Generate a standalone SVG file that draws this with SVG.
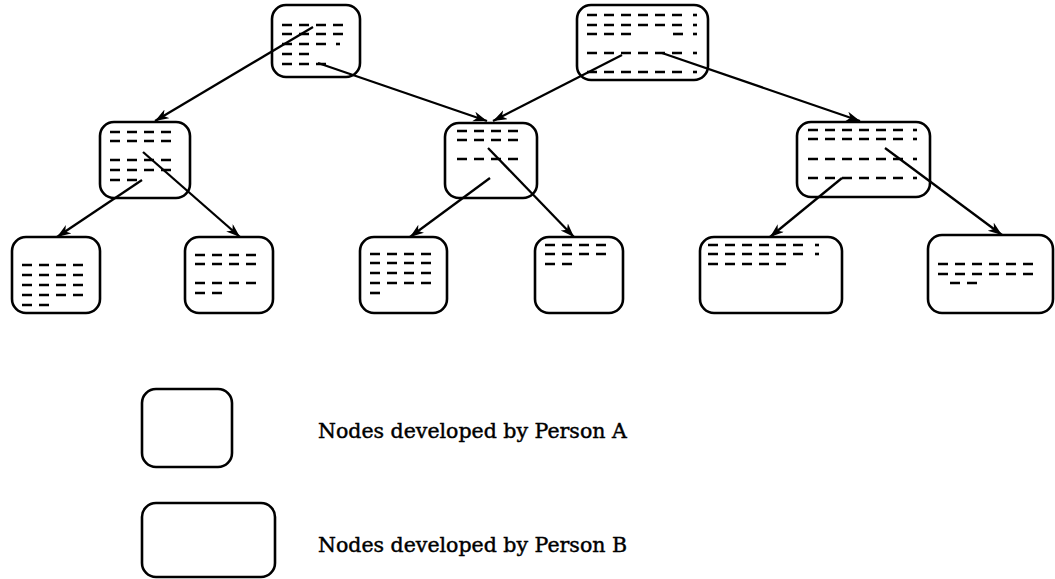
<svg xmlns="http://www.w3.org/2000/svg" width="1055" height="579" viewBox="0 0 1055 579">
<style>
.box{fill:none;stroke:#000;stroke-width:2.6}
.ds{stroke:#000;stroke-width:2.6;stroke-dasharray:10 7;fill:none}
.dt{stroke:#000;stroke-width:2.6;fill:none}
.edge{stroke:#000;stroke-width:2.3;fill:none;marker-end:url(#ah)}
.lbl{font-family:"DejaVu Serif","Liberation Serif",serif;font-size:20.5px;fill:#000;stroke:#000;stroke-width:0.45}
</style>
<defs>
<marker id="ah" markerUnits="userSpaceOnUse" markerWidth="16" markerHeight="12" refX="14" refY="5" orient="auto">
<path d="M0,0 L14,5 L0,10 L4,5 Z" fill="#000"/>
</marker>
</defs>
<rect width="1055" height="579" fill="#fff"/>

<g id="node-top-left">
<rect class="box" x="272" y="5" width="88" height="72" rx="14"/>
<line class="ds" x1="282" y1="25" x2="343" y2="25"/>
<line class="ds" x1="282" y1="34" x2="343" y2="34"/>
<line class="ds" x1="282" y1="44" x2="326" y2="44"/>
<line class="dt" x1="336" y1="44" x2="340" y2="44"/>
<line class="ds" x1="282" y1="54" x2="309" y2="54"/>
<line class="ds" x1="282" y1="64" x2="326" y2="64"/>
</g>

<g id="node-top-right">
<rect class="box" x="577" y="5" width="131" height="75" rx="14"/>
<line class="ds" x1="587" y1="15" x2="682" y2="15"/><line class="dt" x1="693" y1="15" x2="697" y2="15"/>
<line class="ds" x1="587" y1="25" x2="682" y2="25"/><line class="dt" x1="693" y1="25" x2="697" y2="25"/>
<line class="ds" x1="587" y1="34" x2="631" y2="34"/><line class="dt" x1="673" y1="34" x2="683" y2="34"/><line class="dt" x1="693" y1="34" x2="697" y2="34"/>
<line class="ds" x1="587" y1="53" x2="682" y2="53"/><line class="dt" x1="693" y1="53" x2="697" y2="53"/>
<line class="ds" x1="587" y1="72" x2="682" y2="72"/><line class="dt" x1="693" y1="72" x2="697" y2="72"/>
</g>

<g id="node-mid-left">
<rect class="box" x="100" y="122" width="90" height="76" rx="14"/>
<line class="ds" x1="110" y1="132" x2="171" y2="132"/>
<line class="ds" x1="110" y1="141" x2="171" y2="141"/>
<line class="ds" x1="110" y1="160" x2="171" y2="160"/>
<line class="ds" x1="110" y1="170" x2="171" y2="170"/>
<line class="ds" x1="110" y1="180" x2="137" y2="180"/>
</g>

<g id="node-mid-center">
<rect class="box" x="445" y="123" width="92" height="75" rx="14"/>
<line class="ds" x1="457" y1="131" x2="518" y2="131"/>
<line class="ds" x1="457" y1="140" x2="518" y2="140"/>
<line class="ds" x1="457" y1="159" x2="518" y2="159"/>
</g>

<g id="node-mid-right">
<rect class="box" x="797" y="122" width="133" height="75" rx="14"/>
<line class="ds" x1="808" y1="130" x2="903" y2="130"/><line class="dt" x1="913" y1="130" x2="917" y2="130"/>
<line class="ds" x1="808" y1="139" x2="903" y2="139"/><line class="dt" x1="913" y1="139" x2="917" y2="139"/>
<line class="ds" x1="808" y1="159" x2="903" y2="159"/><line class="dt" x1="913" y1="159" x2="917" y2="159"/>
<line class="ds" x1="808" y1="178" x2="903" y2="178"/><line class="dt" x1="913" y1="178" x2="917" y2="178"/>
</g>

<g id="node-bottom-1">
<rect class="box" x="12" y="237" width="88" height="76" rx="14"/>
<line class="ds" x1="22" y1="265" x2="83" y2="265"/>
<line class="ds" x1="22" y1="275" x2="83" y2="275"/>
<line class="ds" x1="22" y1="285" x2="83" y2="285"/>
<line class="ds" x1="22" y1="295" x2="83" y2="295"/>
<line class="ds" x1="22" y1="305" x2="49" y2="305"/>
</g>

<g id="node-bottom-2">
<rect class="box" x="185" y="237" width="88" height="76" rx="14"/>
<line class="ds" x1="195" y1="255" x2="256" y2="255"/>
<line class="ds" x1="195" y1="264" x2="256" y2="264"/>
<line class="ds" x1="195" y1="283" x2="256" y2="283"/>
<line class="ds" x1="195" y1="293" x2="222" y2="293"/>
</g>

<g id="node-bottom-3">
<rect class="box" x="360" y="237" width="87" height="76" rx="14"/>
<line class="ds" x1="370" y1="254" x2="431" y2="254"/>
<line class="ds" x1="370" y1="263" x2="431" y2="263"/>
<line class="ds" x1="370" y1="273" x2="431" y2="273"/>
<line class="ds" x1="370" y1="283" x2="431" y2="283"/>
<line class="ds" x1="370" y1="293" x2="380" y2="293"/>
</g>

<g id="node-bottom-4">
<rect class="box" x="535" y="237" width="88" height="76" rx="14"/>
<line class="ds" x1="545" y1="245" x2="606" y2="245"/>
<line class="ds" x1="545" y1="254" x2="606" y2="254"/>
<line class="ds" x1="545" y1="264" x2="572" y2="264"/>
</g>

<g id="node-bottom-5">
<rect class="box" x="700" y="237" width="142" height="76" rx="14"/>
<line class="ds" x1="708" y1="245" x2="803" y2="245"/><line class="dt" x1="815" y1="245" x2="819" y2="245"/>
<line class="ds" x1="708" y1="254" x2="803" y2="254"/><line class="dt" x1="815" y1="254" x2="819" y2="254"/>
<line class="ds" x1="708" y1="264" x2="786" y2="264"/>
</g>

<g id="node-bottom-6">
<rect class="box" x="928" y="235" width="125" height="78" rx="14"/>
<line class="ds" x1="938" y1="264" x2="1033" y2="264"/>
<line class="ds" x1="938" y1="274" x2="1033" y2="274"/>
<line class="ds" x1="950" y1="283" x2="977" y2="283"/>
</g>

<g id="connectors">
<line class="edge" x1="313" y1="27" x2="155" y2="121"/>
<line class="edge" x1="318" y1="63" x2="487" y2="121"/>
<line class="edge" x1="622" y1="55" x2="493" y2="121"/>
<line class="edge" x1="662" y1="53" x2="860" y2="121"/>
<line class="edge" x1="142" y1="180" x2="57" y2="237"/>
<line class="edge" x1="143" y1="152" x2="240" y2="237"/>
<line class="edge" x1="490" y1="178" x2="410" y2="237"/>
<line class="edge" x1="488" y1="148" x2="574" y2="237"/>
<line class="edge" x1="842" y1="178" x2="770" y2="237"/>
<line class="edge" x1="885" y1="148" x2="1002" y2="235"/>
</g>

<g id="legend-a">
<rect class="box" x="142" y="389" width="90" height="78" rx="14"/>
<text class="lbl" x="318" y="438">Nodes developed by Person A</text>
</g>
<g id="legend-b">
<rect class="box" x="142" y="503" width="133" height="74" rx="14"/>
<text class="lbl" x="318" y="552">Nodes developed by Person B</text>
</g>
</svg>
